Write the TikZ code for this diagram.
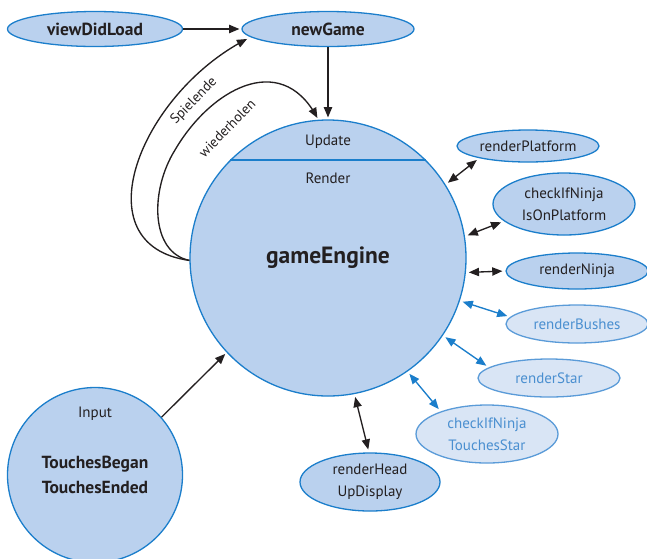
\documentclass[tikz,border=0pt]{standalone}
\usepackage{fontspec}
\setmainfont{PT Sans}
\usetikzlibrary{arrows,shapes,positioning}
\definecolor{ink}{HTML}{231F20}
\definecolor{rim}{HTML}{1B7ECB}
\definecolor{bluefill}{HTML}{BAD1EE}
\definecolor{palerim}{HTML}{5A9BD8}
\definecolor{palefill}{HTML}{D9E5F5}
\definecolor{paletext}{HTML}{4A8FD0}
\newcommand{\txt}{\fontsize{15}{22}\selectfont}
\newcommand{\bigtxt}{\bfseries\fontsize{17.5}{25}\selectfont}
\tikzset{
  func/.style={ellipse, draw=rim, fill=bluefill, line width=1.3pt, text=ink,
    inner sep=0pt, align=center, font=\txt, minimum width=142pt, minimum height=34pt},
  pale/.style={func, draw=palerim, fill=palefill, text=paletext},
  hub/.style={circle, draw=rim, fill=bluefill, line width=1.3pt, text=ink,
    inner sep=0pt, align=center},
  flow/.style={-triangle 45, line width=1.35pt, draw=ink, shorten >=2pt},
  both/.style={triangle 45-triangle 45, line width=1.35pt, draw=ink,
    shorten <=3pt, shorten >=3pt},
  note/.style={text=ink, inner sep=1pt, font=\fontsize{14}{16}\selectfont}
}

\begin{document}
\begin{tikzpicture}[x=1pt, y=-1pt]
    \useasboundingbox (0,0) rectangle (647,558);

    % game loop
    \node[hub, minimum size=276pt, font=\bfseries\fontsize{23.5}{26}\selectfont] (engine) at (328,258) {gameEngine};
    \draw[rim, line width=1.3pt] (engine.135) -- (engine.45);
    \node[text=ink, font=\txt] (update) at (328,142) {Update};
    \node[text=ink, font=\txt] (render) at (328,178) {Render};

    \node[func, font=\bigtxt, minimum width=175pt, minimum height=35pt] (viewLoad) at (95,29) {viewDidLoad};
    \node[func, font=\bigtxt, minimum width=172pt, minimum height=35pt] (newGame) at (328,29) {newGame};

    % input
    \node[hub, minimum size=175pt, font=\bigtxt] (input) at (95,475) {TouchesBegan\\TouchesEnded};
    \node[text=ink, font=\txt] (inputLbl) at (95,414) {Input};

    % render calls
    \node[func, minimum height=32pt] (platform) at (528,146) {renderPlatform};
    \node[func, minimum height=62pt] (onPlatform) at (564,204) {checkIfNinja\\IsOnPlatform};
    \node[func, minimum height=36pt] (ninja) at (577,271) {renderNinja};
    \node[pale, minimum height=38pt] (bushes) at (577,324) {renderBushes};
    \node[pale, minimum height=38pt] (star) at (549,378) {renderStar};
    \node[pale, minimum height=58pt] (touchStar) at (487,434) {checkIfNinja\\TouchesStar};
    \node[func, minimum width=140pt, minimum height=58pt] (hud) at (370,482) {renderHead\\UpDisplay};

    \draw[flow] (viewLoad.east) -- (newGame.west);
    \draw[flow] (newGame.south) -- (engine.north);
    \draw[flow] (input.41.5) -- (engine.223);
    \draw[flow, shorten >=4pt] (engine.181) .. controls (80,245) and (140,95) .. (newGame.186);
    \draw[flow] (engine.181) .. controls (150,252) and (150,190) .. (175,150)
                .. controls (210,90) and (280,50) .. (engine.94.5);
    \node[note, rotate=46] (endLbl) at (194,101) {Spielende};
    \node[note, rotate=46] (againLbl) at (227,128) {wiederholen};

    \draw[both] (engine.32) -- (platform.194);
    \draw[both] (engine.9) -- (onPlatform.196);
    \draw[both] (engine.-6) -- (ninja.west);
    \draw[both, draw=rim, fill=rim] (engine.-18) -- (bushes.174);
    \draw[both, draw=rim, fill=rim] (engine.-34) -- (star.170);
    \draw[both, draw=rim, fill=rim] (engine.-55) -- (touchStar.154);
    \draw[both] (engine.-79) -- (hud.92);
\end{tikzpicture}
\end{document}
